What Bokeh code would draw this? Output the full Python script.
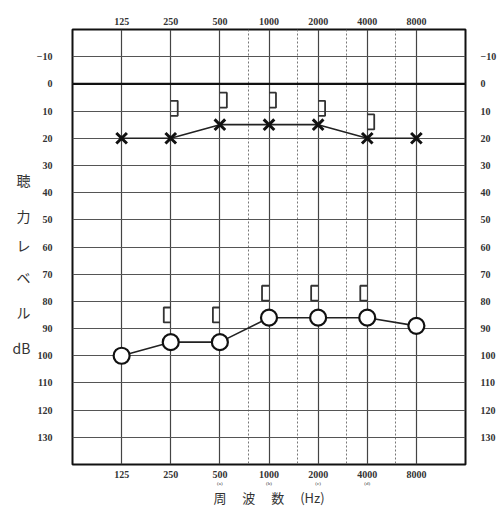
import numpy as np
from bokeh.plotting import figure
from bokeh.models import (Range1d, LogAxis, LinearAxis, FixedTicker, BasicTickFormatter,
                          Span)
from bokeh.embed import file_html
from bokeh.resources import INLINE

# ---- data ----
freqs = [125, 250, 500, 1000, 2000, 4000, 8000]
minor_freqs = [750, 1500, 3000, 6000]
db_ticks = list(range(-10, 140, 10))
left_air = [20, 20, 15, 15, 15, 20, 20]          # X
right_air = [100, 95, 95, 86, 86, 86, 89]        # O
bone_freqs = [250, 500, 1000, 2000, 4000]
left_bone = [9, 6, 6, 9, 14]                     # ]
right_bone = [85, 85, 77, 77, 77]                # [
sub_labels = {500: "(a)", 1000: "(b)", 2000: "(c)", 4000: "(d)"}
ylabel_chars = ["聴", "力", "レ", "ベ", "ル", "dB"]
ylabel_levels = [35.5, 48.7, 59.3, 71, 84, 97]
xlabel = "周　 波　 数　 (Hz)"

TICK_FONT = "Liberation Serif"
TICK_COLOR = "#333333"

p = figure(width=504, height=509, x_axis_type="log",
           x_range=Range1d(62.5, 16000), y_range=Range1d(140, -20),
           output_backend="svg", toolbar_location=None,
           min_border_left=72, min_border_right=39, min_border_top=29, min_border_bottom=45)
p.background_fill_color = "white"
p.border_fill_color = "white"
p.outline_line_color = "#111111"
p.outline_line_width = 2

xt = FixedTicker(ticks=freqs, minor_ticks=minor_freqs)
yt = FixedTicker(ticks=db_ticks)
fmt = BasicTickFormatter(use_scientific=False)
yover = {-10: "−10"}

def style_axis(ax, standoff):
    ax.axis_line_color = None
    ax.major_tick_line_color = None
    ax.minor_tick_line_color = None
    ax.major_tick_out = 0
    ax.major_tick_in = 0
    ax.minor_tick_out = 0
    ax.minor_tick_in = 0
    ax.major_label_text_font = TICK_FONT
    ax.major_label_text_font_size = "10px"
    ax.major_label_text_font_style = "bold"
    ax.major_label_text_color = TICK_COLOR
    ax.major_label_standoff = standoff

# bottom axis
bx = p.xaxis[0]
bx.ticker = xt
bx.formatter = fmt
style_axis(bx, 6)

# left axis
ly = p.yaxis[0]
ly.ticker = yt
ly.major_label_overrides = yover
style_axis(ly, 20)

# outer left axis carrying the stacked vertical title
ty = LinearAxis(ticker=FixedTicker(ticks=ylabel_levels),
                major_label_overrides=dict(zip(ylabel_levels, ylabel_chars)))
style_axis(ty, 3)
ty.major_label_text_font = "Noto Sans CJK JP"
ty.major_label_text_font_size = "14px"
ty.major_label_text_font_style = "normal"
p.add_layout(ty, "left")

# top axis
tx = LogAxis(ticker=FixedTicker(ticks=freqs), formatter=BasicTickFormatter(use_scientific=False))
style_axis(tx, 5)
p.add_layout(tx, "above")

# right axis
ry = LinearAxis(ticker=FixedTicker(ticks=db_ticks), major_label_overrides=yover)
style_axis(ry, 15)
p.add_layout(ry, "right")

# second bottom axis: sub labels + axis title
sx = LogAxis(ticker=FixedTicker(ticks=list(sub_labels.keys())),
             major_label_overrides=sub_labels)
style_axis(sx, 0)
sx.major_label_text_font_size = "5px"
sx.major_label_text_font_style = "normal"
sx.axis_label = xlabel
sx.axis_label_text_font = "Noto Sans CJK JP"
sx.axis_label_text_font_size = "13px"
sx.axis_label_text_font_style = "normal"
sx.axis_label_text_color = "#333333"
sx.axis_label_standoff = -1
p.add_layout(sx, "below")

# grids
p.xgrid.ticker = xt
p.xgrid.grid_line_color = "#444444"
p.xgrid.grid_line_width = 1.2
p.xgrid.minor_grid_line_color = "#777777"
p.xgrid.minor_grid_line_dash = "2 2"
p.xgrid.minor_grid_line_width = 1
p.ygrid.ticker = yt
p.ygrid.grid_line_color = "#555555"
p.ygrid.grid_line_width = 1.2
p.add_layout(Span(location=0, dimension="width", line_color="#111111", line_width=2.2))

# bone conduction brackets, built from the data
half_h = 2.75
k = 2 ** (7 / 49.3)
up_xs = [[f, f * k, f * k, f] for f in bone_freqs]
up_ys = [[v - half_h, v - half_h, v + half_h, v + half_h] for v in left_bone]
lo_xs = [[f, f / k, f / k, f] for f in bone_freqs]
lo_ys = [[v - half_h, v - half_h, v + half_h, v + half_h] for v in right_bone]
p.multi_line(up_xs, up_ys, line_color="#333333", line_width=1.8)
p.multi_line(lo_xs, lo_ys, line_color="#333333", line_width=1.8)

# air conduction
p.line(freqs, left_air, line_color="#222222", line_width=1.6)
p.scatter(freqs, left_air, marker="x", size=15, line_color="#111111", line_width=3)
p.line(freqs, right_air, line_color="#222222", line_width=1.6)
p.scatter(freqs, right_air, marker="circle", size=16, fill_color="white",
          line_color="#111111", line_width=2.2)

open("out.html", "w").write(file_html(p, INLINE))
